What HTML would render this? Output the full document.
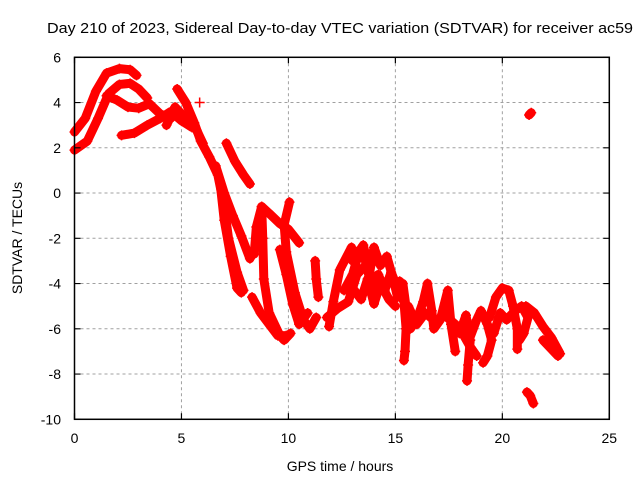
<!DOCTYPE html>
<html><head><meta charset="utf-8"><style>
html,body{margin:0;padding:0;background:#fff}
svg{display:block;font-family:"Liberation Sans",sans-serif}
</style></head><body>
<svg id="chart" width="640" height="480" viewBox="0 0 640 480">
<rect width="640" height="480" fill="#fff"/>
<text x="47" y="33" font-size="15" textLength="586" lengthAdjust="spacingAndGlyphs" fill="#000">Day 210 of 2023, Sidereal Day-to-day VTEC variation (SDTVAR) for receiver ac59</text>
<g id="grid"></g>
<g id="marks"></g>
<rect x="74.5" y="57.3" width="534.8" height="362" fill="none" stroke="#000" stroke-width="1.5"/>
<g id="ticks"></g>
<text x="340" y="471" font-size="14" text-anchor="middle" fill="#000">GPS time / hours</text>
<text x="22" y="238" font-size="14" text-anchor="middle" fill="#000" transform="rotate(-90 22 238)">SDTVAR / TECUs</text>
</svg>
<script>
const xTicks = [0, 5, 10, 15, 20, 25];
const yTicks = [6, 4, 2, 0, -2, -4, -6, -8, -10];
const track01 = [[0,2.7],[0.5,3.3],[1.0,4.5],[1.5,5.3],[2.1,5.5],[2.6,5.45],[2.9,5.2]];
const track02 = [[0,1.9],[0.6,2.3],[1.1,3.3],[1.6,4.4],[2.1,4.8],[2.6,4.85],[3.0,4.6],[3.4,4.2]];
const track03 = [[1.5,4.3],[2.0,4.1],[2.5,3.8],[3.0,3.75],[3.5,3.95],[4.0,3.5],[4.5,3.3]];
const track04 = [[2.2,2.55],[2.8,2.65],[3.4,3.0],[4.0,3.3],[4.5,3.6],[5.0,3.2],[5.5,2.9]];
const track05 = [[4.8,4.6],[5.2,4.0],[5.6,3.1],[5.9,2.3],[6.3,1.6],[6.7,0.8],[7.0,-0.6],[7.2,-2.0],[7.6,-3.5],[7.9,-4.3]];
const track06 = [[6.6,1.2],[7.0,0],[7.4,-1.0],[7.8,-1.9],[8.2,-2.9]];
const track07 = [[7.1,2.2],[7.5,1.4],[7.9,0.8],[8.2,0.4]];
const track08 = [[6.8,0.5],[7.0,-1.2],[7.3,-2.8],[7.6,-4.2],[7.8,-4.4]];
const track09 = [[8.4,-2.7],[8.5,-1.5],[8.75,-0.6],[9.1,-0.9],[9.6,-1.35],[10.0,-1.6],[10.5,-2.2]];
const track10 = [[8.75,-0.6],[8.8,-2.0],[8.85,-3.8],[9.1,-5.3],[9.6,-6.3],[9.8,-6.5],[10.1,-6.2]];
const track11 = [[10.05,-0.4],[9.8,-1.4],[9.9,-2.6],[10.3,-4.4],[10.7,-5.6],[11.0,-6.0],[11.3,-5.5]];
const track12 = [[9.6,-2.5],[9.9,-3.6],[10.2,-4.9],[10.5,-5.8],[10.9,-5.3]];
const track13 = [[8.3,-4.6],[8.7,-5.3],[9.1,-5.8],[9.5,-6.3],[9.9,-6.3]];
const track14 = [[11.25,-3.0],[11.3,-3.8],[11.4,-4.6]];
const track15 = [[11.9,-5.9],[12.1,-4.8],[12.4,-3.4],[12.95,-2.4]];
const track16 = [[11.8,-5.5],[12.3,-5.1],[12.8,-4.8],[13.2,-3.6],[13.6,-3.2]];
const track17 = [[13.0,-3.0],[13.5,-2.3],[13.8,-3.5],[14.0,-2.4],[14.3,-3.2],[14.6,-2.8],[14.9,-3.8],[15.1,-4.6]];
const track18 = [[13.0,-4.2],[13.4,-4.7],[13.7,-3.8],[14.0,-4.9],[14.3,-4.0],[14.7,-4.7],[15.0,-5.0]];
const track19 = [[15.2,-3.9],[15.4,-4.8],[15.5,-6.0],[15.45,-7.0],[15.4,-7.4]];
const track20 = [[15.35,-4.0],[15.55,-5.4],[15.7,-6.0],[16.0,-5.6],[16.3,-4.8],[16.5,-4.0],[16.7,-5.2],[16.8,-6.0],[17.1,-5.6],[17.45,-4.3],[17.6,-5.8],[17.8,-7.0]];
const track21 = [[15.6,-5.0],[16.0,-5.8],[16.4,-5.3],[16.9,-5.7],[17.3,-5.4],[17.8,-5.8],[18.2,-6.3],[18.5,-6.8],[18.8,-7.2]];
const track22 = [[18.0,-6.2],[18.3,-5.4],[18.5,-6.5],[18.4,-7.6],[18.35,-8.3]];
const track23 = [[18.4,-6.6],[18.8,-5.6],[19.0,-5.2],[19.3,-5.8],[19.5,-6.5],[19.3,-7.2],[19.1,-7.5]];
const track24 = [[19.4,-5.5],[19.7,-4.6],[20.0,-4.2],[20.3,-4.3],[20.5,-5.0],[20.7,-6.0],[20.7,-6.9]];
const track25 = [[19.6,-6.2],[19.9,-5.3],[20.2,-5.6],[20.6,-5.2],[20.9,-5.0],[21.2,-5.5],[21.0,-6.2],[20.8,-6.5]];
const track26 = [[21.1,-5.0],[21.5,-5.3],[21.9,-5.9],[22.3,-6.4],[22.7,-7.1]];
const track27 = [[21.9,-6.5],[22.2,-6.8],[22.6,-7.2]];
const track28 = [[21.15,-8.8],[21.3,-8.95],[21.45,-9.3]];
const track29 = [[21.25,3.45],[21.35,3.55]];
const track30 = [[5.85,4.0]];
const track31 = [[12.6,-4.3],[13.0,-3.6],[13.3,-2.6],[13.6,-3.0],[13.9,-4.2],[14.2,-3.6],[14.5,-4.3],[14.8,-3.5],[15.1,-4.2]];
const track32 = [[4.3,3.0],[4.7,3.8],[5.0,3.5],[5.4,3.2],[5.7,2.8],[6.0,2.2]];
const tracks = [track01,track02,track03,track04,track05,track06,track07,track08,track09,track10,track11,track12,track13,track14,track15,track16,track17,track18,track19,track20,track21,track22,track23,track24,track25,track26,track27,track28,track29,track30,track31,track32];

const X0=74.5, X1=609.3, Y0=419.3, Y1=57.3;
function xs(t){return X0+(t-0)/(25-0)*(X1-X0);}
function ys(v){return Y0-(v-(-10))/(6-(-10))*(Y0-Y1);}
const NS='http://www.w3.org/2000/svg';
function mk(tag,attrs,parent){const e=document.createElementNS(NS,tag);for(const k in attrs)e.setAttribute(k,attrs[k]);parent.appendChild(e);return e;}
const grid=document.getElementById('grid'), ticks=document.getElementById('ticks'), marks=document.getElementById('marks');

xTicks.forEach(t=>{
  const x=xs(t);
  if(t>0&&t<25){
    const g=mk('line',{x1:x,y1:Y1,x2:x,y2:Y0,stroke:'#a0a0a0','stroke-width':1,'stroke-dasharray':'3,3'},grid);
    
    
  }
  const tk=mk('path',{d:`M${x},${Y0}v-6M${x},${Y1}v6`,stroke:'#000','stroke-width':1.2},ticks);
  
  
  const lb=mk('text',{x:x,y:443,'font-size':14,'text-anchor':'middle',fill:'#000'},ticks);
  lb.textContent=String(t);
  
  
});
yTicks.forEach(v=>{
  const y=ys(v);
  if(v>-10&&v<6){
    const g=mk('line',{x1:X0,y1:y,x2:X1,y2:y,stroke:'#a0a0a0','stroke-width':1,'stroke-dasharray':'3,3'},grid);
    
    
  }
  const tk=mk('path',{d:`M${X0},${y}h6M${X1},${y}h-6`,stroke:'#000','stroke-width':1.2},ticks);
  
  
  const lb=mk('text',{x:61,y:y+5,'font-size':14,'text-anchor':'end',fill:'#000'},ticks);
  lb.textContent=String(v);
  
  
});
tracks.forEach((tr,i)=>{
  const g=mk('g',{},marks);
  
  
  if(tr.length>1){
    mk('polyline',{points:tr.map(p=>xs(p[0])+','+ys(p[1])).join(' '),fill:'none',stroke:'#ff0000','stroke-width':9,'stroke-linejoin':'round','stroke-linecap':'round'},g);
  }
  tr.forEach(p=>{
    const x=xs(p[0]),y=ys(p[1]);
    mk('path',{d:`M${x-5},${y}h10M${x},${y-5}v10`,stroke:'#ff0000','stroke-width':1.5},g);
  });
});
</script>
</body></html>
